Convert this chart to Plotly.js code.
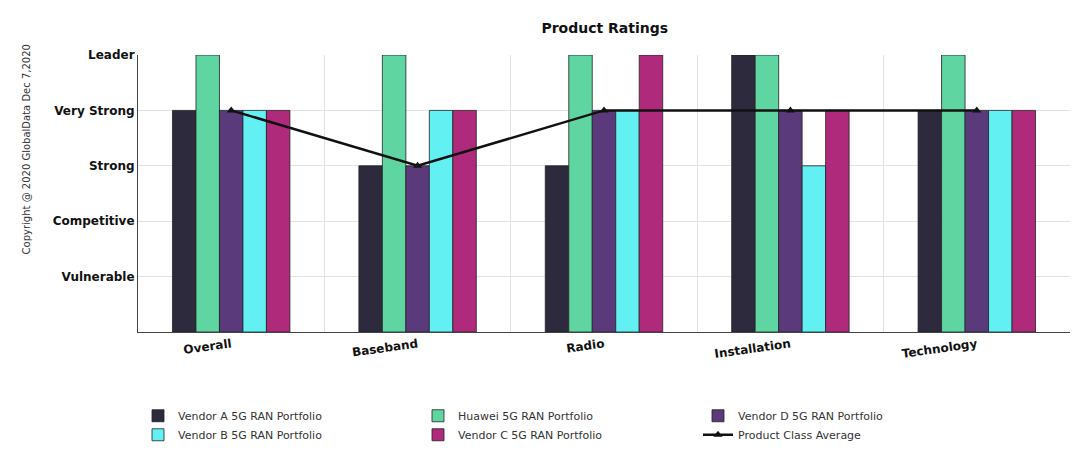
<!DOCTYPE html>
<html>
<head>
<meta charset="utf-8">
<script src="https://cdn.plot.ly/plotly-3.0.1.min.js"></script>
<style>body{margin:0;background:#fff}#chart{width:1080px;height:459px}</style>
</head>
<body>
<div id="chart"></div>
<script>
// categories and ratings (1 = Vulnerable ... 5 = Leader)
const categories = ['Overall','Baseband','Radio','Installation','Technology'];
const vendorA = [4,3,3,5,4];
const huawei  = [5,5,5,5,5];
const vendorD = [4,3,4,4,4];
const vendorB = [4,4,4,3,4];
const vendorC = [4,4,5,4,4];
const classAvg = [4,3,4,4,4];
const ratingVals = [1,2,3,4,5];
const ratingLabels = ['Vulnerable','Competitive','Strong','Very Strong','Leader'];

const bar = (name, y, color)=>({
  type:'bar', name, x:categories, y,
  marker:{color, line:{color:'#222', width:0.8}}
});

const traces = [
  bar('Vendor A 5G RAN Portfolio', vendorA, '#2d2a3e'),
  bar('Huawei 5G RAN Portfolio', huawei, '#5fd6a1'),
  bar('Vendor D 5G RAN Portfolio', vendorD, '#5a3a7a'),
  bar('Vendor B 5G RAN Portfolio', vendorB, '#62f0f2'),
  bar('Vendor C 5G RAN Portfolio', vendorC, '#b02a7c'),
  {type:'scatter', mode:'lines+markers', name:'Product Class Average', x:categories, y:classAvg,
   line:{color:'#111', width:2.5}, marker:{symbol:'triangle-up', size:8, color:'#111'}}
];

Plotly.newPlot('chart', traces, {
  width:1080, height:459,
  margin:{l:138, r:10, t:55, b:127},
  title:{text:'<b>Product Ratings</b>', x:0.56, y:0.95, font:{family:'Verdana, DejaVu Sans', size:14, color:'#111'}},
  barmode:'group', bargap:0.37, bargroupgap:0,
  paper_bgcolor:'#fff', plot_bgcolor:'#fff',
  font:{family:'Verdana, DejaVu Sans', color:'#222'},
  xaxis:{tickson:'boundaries', showgrid:true, gridcolor:'#e2e2e2', ticks:'',
    tickangle:-8, tickfont:{size:12, color:'#111', weight:'bold'},
    showline:true, linecolor:'#444', mirror:false},
  yaxis:{range:[0,5], tickvals:ratingVals, ticktext:ratingLabels.map(t=>'<b>'+t+'</b>'),
    showgrid:true, gridcolor:'#e2e2e2', tickfont:{size:12, color:'#111'},
    showline:true, linecolor:'#444', zeroline:false, ticks:'', ticklen:6},
  legend:{orientation:'h', x:0.0, xanchor:'left', y:-0.25, yanchor:'top',
    entrywidth:235, font:{size:11, color:'#333'}, traceorder:'normal', itemwidth:30, tracegroupgap:0},
  annotations:[{text:'Copyright @ 2020 GlobalData Dec 7,2020', textangle:-90, xref:'paper', yref:'paper',
    x:-0.128, y:0.66, showarrow:false, font:{size:10, color:'#333'}}]
}, {displayModeBar:false});
</script>
</body>
</html>
